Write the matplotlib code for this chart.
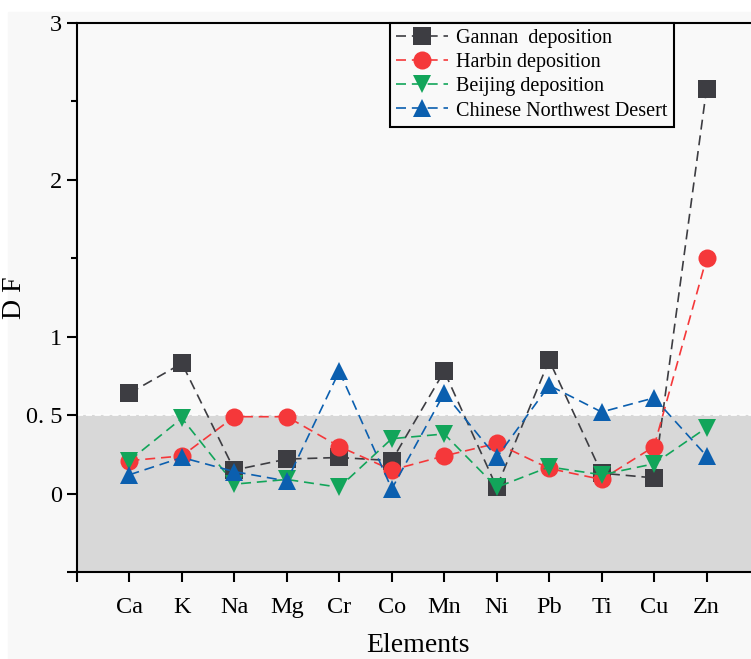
import matplotlib
matplotlib.use("Agg")
import matplotlib.pyplot as plt
from matplotlib.ticker import FixedLocator, FixedFormatter

elements = ["Ca", "K", "Na", "Mg", "Cr", "Co", "Mn", "Ni", "Pb", "Ti", "Cu", "Zn"]
gannan = [0.64, 0.83, 0.15, 0.22, 0.23, 0.21, 0.78, 0.04, 0.85, 0.13, 0.10, 2.58]
harbin = [0.21, 0.24, 0.49, 0.49, 0.30, 0.15, 0.24, 0.32, 0.16, 0.09, 0.30, 1.50]
beijing = [0.21, 0.48, 0.06, 0.09, 0.04, 0.35, 0.38, 0.04, 0.17, 0.12, 0.19, 0.42]
desert = [0.12, 0.23, 0.14, 0.08, 0.78, 0.03, 0.64, 0.23, 0.69, 0.52, 0.61, 0.24]

series = [
    ("Gannan  deposition", gannan, "s", "#3d3d42"),
    ("Harbin deposition", harbin, "o", "#f5383a"),
    ("Beijing deposition", beijing, "v", "#12a55a"),
    ("Chinese Northwest Desert", desert, "^", "#0b5faf"),
]

plt.rcParams["font.family"] = ["Liberation Serif", "DejaVu Serif"]

W, H = 751, 659
fig = plt.figure(figsize=(W / 100, H / 100), dpi=100, facecolor="white")
fig.patches.append(plt.Rectangle((8 / W, 0), 1, 1 - 12 / H, transform=fig.transFigure,
                                 color="#f8f8f8", zorder=-10))
ax = fig.add_axes([77 / W, 1 - 572 / H, 682 / W, 549 / H])
ax.set_facecolor("#f9f9f9")
ax.axhspan(-0.5, 0.5, color="#d8d8d8", zorder=0, lw=0)
ax.axhline(0.5, color="white", lw=1.2, ls="--", zorder=0.5)

x = list(range(1, len(elements) + 1))
for label, vals, m, c in series:
    ax.plot(x, vals, ls=(0, (6, 3.5)), lw=1.2, color=c, marker=m, markersize=13,
            markeredgewidth=0, label=label, zorder=3)

ax.set_xlim(0, 13)
ax.set_ylim(-0.5, 3)
ax.xaxis.set_major_locator(FixedLocator(list(range(0, 13))))
ax.xaxis.set_major_formatter(FixedFormatter([""] + elements))
ax.yaxis.set_major_locator(FixedLocator([-0.5, 0, 0.5, 1, 2, 3]))
ax.yaxis.set_major_formatter(FixedFormatter(["", "0", "0. 5", "1", "2", "3"]))
ax.yaxis.set_minor_locator(FixedLocator([1.5, 2.5]))
ax.tick_params(axis="both", which="major", direction="out", length=7, width=1.5,
               labelsize=17.5, color="black")
ax.tick_params(axis="y", which="minor", direction="out", length=4, width=1.5)
ax.tick_params(axis="x", pad=11)
ax.spines["right"].set_visible(False)
for s in ["left", "top", "bottom"]:
    ax.spines[s].set_linewidth(1.5)

ax.set_xlabel("Elements", fontsize=20, labelpad=11)
ax.set_ylabel("D F", fontsize=20)
ax.yaxis.set_label_coords(-0.073, 0.5)

leg = ax.legend(loc="upper left", bbox_to_anchor=((390 - 77) / 682, 1.0), fontsize=14.5,
                frameon=True, fancybox=False, edgecolor="black", facecolor="#f9f9f9",
                framealpha=1, handlelength=2.6, handletextpad=0.4, borderpad=0.3,
                labelspacing=0.25, borderaxespad=0)
leg.get_frame().set_linewidth(1.5)

fig.savefig("out.png", dpi=100)
